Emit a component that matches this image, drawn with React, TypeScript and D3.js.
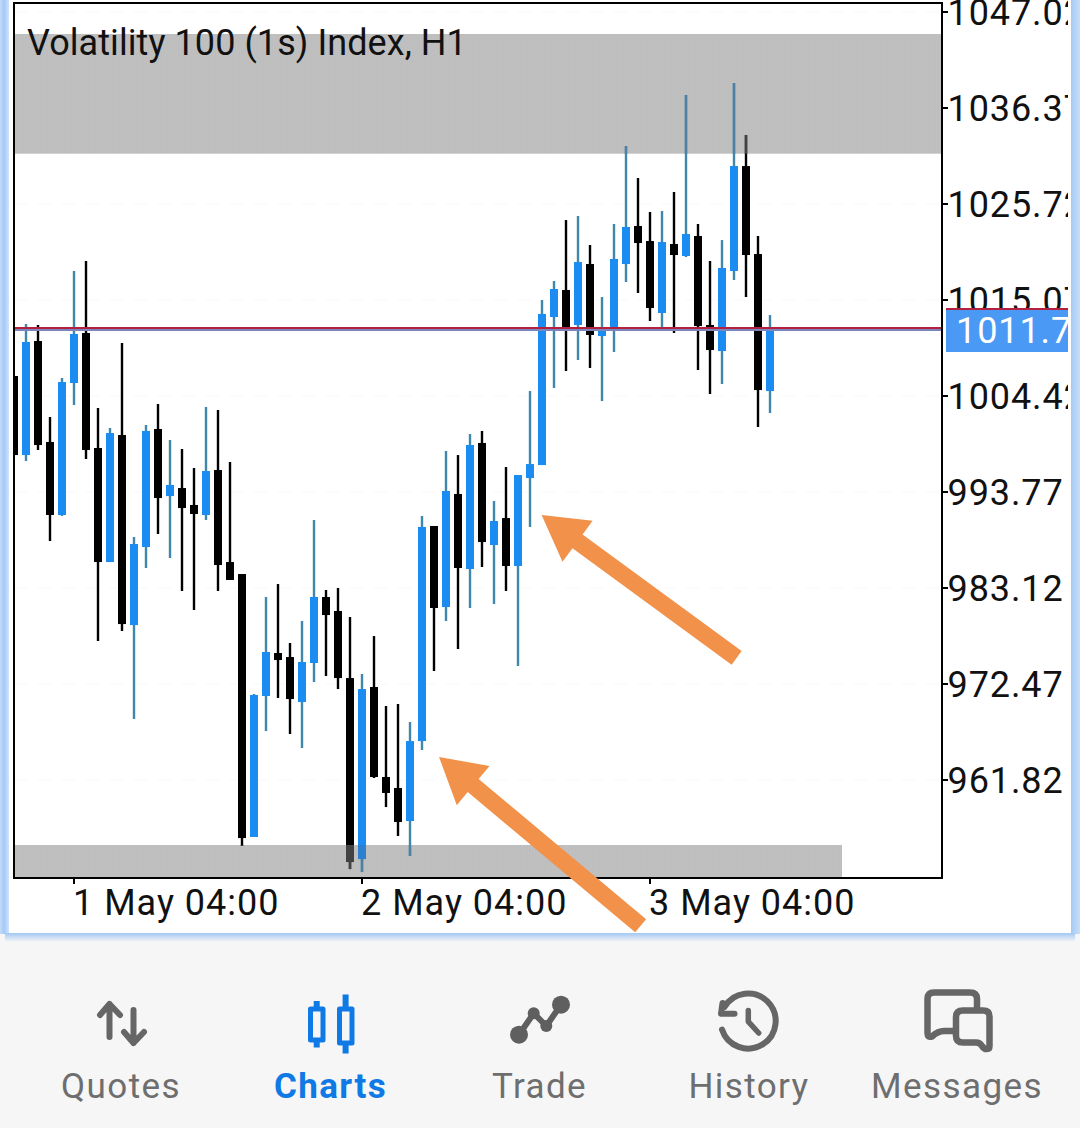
import React from "react";
import * as d3 from "d3";

// Hourly candles, starting 30 Apr 23:00
const opens = [1006.64,997.87,1010.52,999.32,991.22,1005.86,1011.41,998.65,986.00,1000.09,979.01,987.67,1000.76,993.32,994.21,992.33,991.22,996.21,986.00,984.67,955.50,971.14,975.91,975.46,970.47,974.80,982.12,980.57,973.13,953.05,972.14,962.15,960.93,957.27,966.14,990.00,981.01,993.55,985.23,999.21,987.89,990.88,985.56,995.32,996.76,1013.18,1016.18,1012.30,1019.06,1011.07,1011.63,1019.06,1023.28,1021.61,1013.63,1021.28,1019.95,1022.17,1012.30,1009.41,1018.29,1029.93,1020.17,1004.97];
const highs = [1006.64,1012.41,1012.30,1002.09,1006.42,1018.29,1019.40,1003.09,1000.87,1010.30,988.78,1001.20,1003.53,999.54,998.54,996.43,1003.20,1002.87,997.10,984.67,971.36,982.12,983.56,977.02,979.46,990.66,982.90,983.12,979.90,973.58,977.79,970.03,970.25,968.25,991.11,990.00,998.32,997.87,1000.20,1000.54,992.77,996.54,995.65,1004.97,1015.07,1017.18,1023.94,1024.39,1021.17,1015.40,1023.50,1032.15,1028.60,1024.83,1024.94,1027.05,1037.81,1023.50,1019.40,1021.72,1039.14,1033.37,1022.17,1013.40];
const lows = [997.87,997.21,998.43,988.33,991.11,1003.42,997.43,977.24,986.00,978.35,968.59,985.34,989.11,986.45,982.79,980.68,990.66,982.79,984.01,954.50,955.50,967.25,970.92,966.92,965.37,972.69,973.36,971.91,951.94,951.61,962.04,958.82,955.61,953.39,965.15,973.91,979.46,976.35,980.90,985.45,981.34,982.79,974.47,989.89,996.76,1005.31,1007.19,1008.41,1007.53,1003.86,1009.30,1017.07,1015.85,1012.74,1012.07,1011.41,1019.84,1007.30,1004.64,1005.75,1017.29,1015.40,1000.98,1002.53];
const closes = [997.87,1010.41,998.98,991.22,1005.97,1011.30,998.43,986.00,1000.31,979.12,988.00,1000.54,993.10,994.55,991.99,991.33,996.10,985.67,984.01,955.38,971.25,976.02,975.13,970.80,974.91,982.12,980.12,973.13,952.72,971.91,962.15,960.38,957.16,966.14,989.89,980.90,993.88,985.34,998.98,988.22,990.55,985.56,995.65,996.87,1013.52,1016.29,1012.07,1019.28,1011.19,1011.74,1019.62,1023.17,1021.39,1014.18,1021.50,1020.06,1022.39,1012.18,1009.52,1018.62,1029.93,1020.06,1005.08,1011.74];

const title = "Volatility 100 (1s) Index, H1";
const yTickValues = [1047.02,1036.37,1025.72,1015.07,1004.42,993.77,983.12,972.47,961.82];
const xTickIndex = [5,29,53];
const xTickLabels = ["1 May 04:00","2 May 04:00","3 May 04:00"];
const bidPrice = 1011.74;
const askPrice = 1011.95;
const bidLabel = "1011.7";
const navLabels = ["Quotes","Charts","Trade","History","Messages"];
const navCenters = [121,330.5,539.5,749,957];

// Supply / demand zones: [from candle, to candle or null for the right edge, top price, bottom price]
const zones: [number, number | null, number, number][] = [
  [-1, null, 1044.58, 1031.30],
  [-1, 69, 954.61, 950.95],
];
// Arrow annotations: [tip candle, tip price, tail candle, tail price]
const arrows: [number, number, number, number][] = [
  [43.97, 991.22, 60.22, 975.37],
  [35.42, 964.37, 52.22, 945.66],
];

const W = 1080, H = 1128;
const L = 14, R = 942, T = 3, B = 878;
const x = d3.scaleLinear().domain([0, 63]).range([14, 770]);
const y = d3.scaleLinear().domain([1015.07, 1004.42]).range([300, 396]);

const FONT = "Roboto, sans-serif";
const GREY = "#666666";
const NAV_BLUE = "#0f7ae5";

type Pal = { down: string; upBody: string; upWick: string };
const normal: Pal = { down: "#000000", upBody: "#1a8cf2", upWick: "#3f87ab" };
const muted: Pal = { down: "#424242", upBody: "#2c80d2", upWick: "#4f7fa5" };

function Candles({ pal }: { pal: Pal }) {
  return (
    <g>
      {opens.map((o, i) => {
        const c = closes[i];
        const up = c >= o;
        const cx = x(i);
        const top = y(Math.max(o, c));
        const bot = y(Math.min(o, c));
        return (
          <g key={i}>
            <rect x={cx - 1.2} width={2.4} y={y(highs[i])} height={y(lows[i]) - y(highs[i])} fill={up ? pal.upWick : pal.down} />
            <rect x={cx - 4} width={8} y={top} height={Math.max(bot - top, 1)} fill={up ? pal.upBody : pal.down} />
          </g>
        );
      })}
    </g>
  );
}

function arrowPoints([ti, tp, ai, ap]: [number, number, number, number]) {
  const tx = x(ti), ty = y(tp), ex = x(ai), ey = y(ap);
  const len = Math.hypot(ex - tx, ey - ty);
  const ux = (ex - tx) / len, uy = (ey - ty) / len;
  const px = -uy, py = ux;
  const headLen = 44.5, headHalf = 25.5, shaftHalf = 8.5;
  const bx = tx + ux * headLen, by = ty + uy * headLen;
  const pts = [
    [tx, ty],
    [bx - px * headHalf, by - py * headHalf],
    [bx - px * shaftHalf, by - py * shaftHalf],
    [ex - px * shaftHalf, ey - py * shaftHalf],
    [ex + px * shaftHalf, ey + py * shaftHalf],
    [bx + px * shaftHalf, by + py * shaftHalf],
    [bx + px * headHalf, by + py * headHalf],
  ];
  return pts.map((p) => p.join(",")).join(" ");
}

function zoneRect(z: [number, number | null, number, number]) {
  const x1 = L + 1;
  const x2 = z[1] === null ? R - 1 : x(z[1]);
  return { x: x1, y: y(z[2]), width: x2 - x1, height: Math.min(y(z[3]), B) - y(z[2]) };
}

function NavIcons() {
  return (
    <g fill="none" strokeLinecap="round" strokeLinejoin="round">
      {/* Quotes */}
      <g stroke={GREY} strokeWidth={6}>
        <path d="M109.5 1037V1004M100 1015L109.5 1004L120 1015" />
        <path d="M133.5 1010V1043M124 1032L133.5 1043L144 1032" />
      </g>
      {/* Charts */}
      <g stroke={NAV_BLUE} strokeWidth={5} strokeLinecap="butt">
        <rect x={310.5} y={1009} width={12.5} height={31} />
        <path d="M316.7 1001V1009M316.7 1040V1047.5" strokeWidth={6} />
        <rect x={339.5} y={1009} width={12.5} height={34} />
        <path d="M345.6 994.5V1009M345.6 1043V1053.5" strokeWidth={6} />
      </g>
      {/* Trade */}
      <g fill="#5f5f5f" stroke="none">
        <circle cx={519} cy={1034.7} r={9} />
        <circle cx={533.7} cy={1013.3} r={6} />
        <circle cx={546.3} cy={1026} r={6} />
        <circle cx={561} cy={1004.7} r={9} />
      </g>
      <path d="M519 1034.7L533.7 1013.3L546.3 1026L561 1004.7" stroke="#5f5f5f" strokeWidth={6} />
      {/* History */}
      <g stroke={GREY} strokeWidth={6}>
        <path d="M724.5 1007A27.5 27.5 0 1 1 722 1029.5" />
        <path d="M722.5 1003L721 1013.7L734.5 1013.7" />
        <path d="M748.3 1010.5V1021.6L758.7 1033" strokeWidth={5.5} />
      </g>
      {/* Messages */}
      <g stroke={GREY} strokeWidth={6.5}>
        <path d="M977 1009V999Q977 992.5 970 992.5H934Q927.5 992.5 927.5 999V1033Q927.5 1038 932 1036.5Q938 1031 944 1031H955" />
        <path d="M989.5 1046V1016.5Q989.5 1010.5 983 1010.5H963Q956 1010.5 956 1017V1036Q956 1042.5 963 1042.5H976Q980 1042.5 982 1046Q984.5 1049.5 987 1049Q989.5 1049 989.5 1046Z" />
      </g>
    </g>
  );
}

export default function App() {
  return (
    <svg width={W} height={H} viewBox={`0 0 ${W} ${H}`} style={{ position: "absolute", left: 0, top: 0, display: "block" }} fontFamily={FONT}>
      <defs>
        <clipPath id="plot"><rect x={L} y={T} width={R - L} height={B - T} /></clipPath>
        <clipPath id="zones">{zones.map((z, i) => <rect key={i} {...zoneRect(z)} />)}</clipPath>
        <clipPath id="axisClip"><rect x={944} y={-4} width={124} height={930} /></clipPath>
        <pattern id="dither" width={3} height={3} patternUnits="userSpaceOnUse">
          <rect width={3} height={3} fill="#bebebe" />
          <rect width={1} height={3} fill="#c0c0c0" />
        </pattern>
        <linearGradient id="frameLeft" x1="0" x2="1" y1="0" y2="0">
          <stop offset="0" stopColor="#c4dcfa" />
          <stop offset="0.45" stopColor="#a4c9f7" />
          <stop offset="1" stopColor="#cfe3fb" />
        </linearGradient>
        <linearGradient id="frameRight" x1="0" x2="1" y1="0" y2="0">
          <stop offset="0" stopColor="#a5caf6" />
          <stop offset="1" stopColor="#c6def9" />
        </linearGradient>
        <linearGradient id="frameBottom" x1="0" x2="0" y1="0" y2="1">
          <stop offset="0" stopColor="#a3c8f3" />
          <stop offset="1" stopColor="#f6f6f7" />
        </linearGradient>
      </defs>

      {/* window */}
      <rect width={W} height={H} fill="#f6f6f7" />
      <rect width={W} height={934} fill="#ffffff" />
      <rect x={0} width={9} y={0} height={934} fill="url(#frameLeft)" />
      <rect x={1071} width={9} y={0} height={934} fill="url(#frameRight)" />
      <rect x={5} y={933} width={1070} height={9} fill="url(#frameBottom)" />

      {/* grid */}
      <g stroke="#f9f9f9" strokeWidth={1} strokeDasharray="14 10">
        {yTickValues.map((v) => <line key={v} x1={L} x2={R} y1={y(v)} y2={y(v)} />)}
      </g>

      {/* zones and candles */}
      <g clipPath="url(#plot)">
        {zones.map((z, i) => <rect key={i} {...zoneRect(z)} fill="url(#dither)" />)}
        <Candles pal={normal} />
        <g clipPath="url(#zones)"><Candles pal={muted} /></g>
        <line x1={L} x2={R} y1={y(bidPrice)} y2={y(bidPrice)} stroke="#7c84bc" strokeWidth={2} />
        <line x1={L} x2={R} y1={y(askPrice)} y2={y(askPrice)} stroke="#b3213f" strokeWidth={2} />
      </g>

      <text x={27} y={55} fontSize={36} letterSpacing={0.07} fill="#111111">{title}</text>

      {/* frame */}
      <rect x={L} y={T} width={R - L} height={B - T} fill="none" stroke="#000" strokeWidth={2} />

      {/* price axis */}
      <g clipPath="url(#axisClip)">
        {yTickValues.map((v) => (
          <text key={v} x={947.5} y={y(v) + 12.5} fontSize={36} letterSpacing={0.9} fill="#111111">{d3.format(".2f")(v)}</text>
        ))}
      </g>
      {yTickValues.map((v) => <line key={v} x1={R} x2={R + 6} y1={y(v)} y2={y(v)} stroke="#000" strokeWidth={2} />)}

      {/* last price tag */}
      <rect x={946} y={309} width={122} height={43} fill="#4a9af5" />
      <rect x={946} y={308} width={122} height={2} fill="#b3213f" />
      <g clipPath="url(#axisClip)">
        <text x={956} y={343} fontSize={36} letterSpacing={0.9} fill="#ffffff">{bidLabel}</text>
      </g>

      {/* time axis */}
      {xTickIndex.map((t, i) => (
        <g key={t}>
          <line x1={x(t)} x2={x(t)} y1={B} y2={B + 6} stroke="#000" strokeWidth={2} />
          <text x={x(t) - 1} y={915} fontSize={36} letterSpacing={1} fill="#111111">{xTickLabels[i]}</text>
        </g>
      ))}

      {/* annotations */}
      {arrows.map((a, i) => <polygon key={i} points={arrowPoints(a)} fill="#f2914a" />)}

      {/* bottom navigation */}
      <NavIcons />
      {navLabels.map((t, i) => (
        <text key={t} x={navCenters[i]} y={1098} textAnchor="middle" fontSize={35} letterSpacing={1.4}
          fontWeight={i === 1 ? 700 : 400} fill={i === 1 ? NAV_BLUE : "#6e6e6e"}>{t}</text>
      ))}
    </svg>
  );
}
